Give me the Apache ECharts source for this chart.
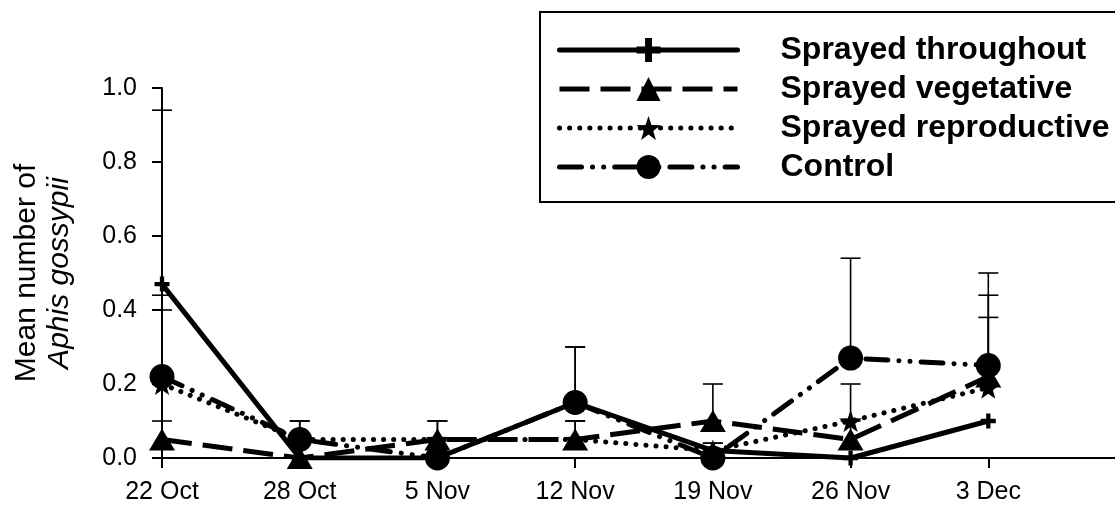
<!DOCTYPE html>
<html><head><meta charset="utf-8">
<script src="https://cdn.jsdelivr.net/npm/echarts@6/dist/echarts.min.js"></script>
<style>html,body{margin:0;padding:0;background:#fff}#c{width:1115px;height:506px}</style>
</head><body><div id="c"></div>
<script>
const categories = ['22 Oct', '28 Oct', '5 Nov', '12 Nov', '19 Nov', '26 Nov', '3 Dec'];
const seriesNames = ['Sprayed throughout', 'Sprayed vegetative', 'Sprayed reproductive', 'Control'];

const throughout   = [0.47, 0.00, 0.00, 0.15, 0.02, 0.00, 0.10];
const vegetative   = [0.05, 0.00, 0.05, 0.05, 0.10, 0.05, 0.22];
const reproductive = [0.20, 0.05, 0.05, 0.05, 0.02, 0.10, 0.19];
const control      = [0.22, 0.05, 0.00, 0.15, 0.00, 0.27, 0.25];

// upper ends of the error bars
const throughoutUpper   = [0.94, 0.00, 0.00, 0.30, 0.04, 0.00, 0.10];
const vegetativeUpper   = [0.10, 0.00, 0.10, 0.10, 0.20, 0.10, 0.44];
const reproductiveUpper = [0.40, 0.10, 0.10, 0.10, 0.04, 0.20, 0.38];
const controlUpper      = [0.44, 0.10, 0.00, 0.30, 0.00, 0.54, 0.50];

const yTicks = [0, 0.2, 0.4, 0.6, 0.8, 1.0];

const FONT = 'Liberation Sans, Arial, sans-serif';
const means = [throughout, vegetative, reproductive, control];
const uppers = [throughoutUpper, vegetativeUpper, reproductiveUpper, controlUpper];

const PLUS = 'path://M5,0H9V5H14V9H9V14H5V9H0V5H5Z';
const STAR = 'path://M10,0L12.351,6.764L19.511,6.91L13.804,11.236L15.878,18.09L10,14L4.122,18.09L6.196,11.236L0.489,6.91L7.649,6.764Z';

const styles = [
  { symbol: PLUS, symbolSize: 15, lineStyle: { type: 'solid', width: 5, cap: 'round' } },
  { symbol: 'triangle', symbolSize: [26, 22], lineStyle: { type: [30, 11], width: 5, cap: 'butt' } },
  { symbol: STAR, symbolSize: [23, 22], lineStyle: { type: [0.1, 10], width: 5, cap: 'round' } },
  { symbol: 'circle', symbolSize: 25, lineStyle: { type: [22, 11, 0.1, 11, 0.1, 11], width: 5, cap: 'round' } }
];

function errRender(params, api) {
  const x = api.value(0), m = api.value(1), u = api.value(2);
  if (!(u > m)) return null;
  const p0 = api.coord([x, m]), p1 = api.coord([x, u]);
  const half = 10;
  return {
    type: 'group',
    children: [
      { type: 'line', shape: { x1: p0[0], y1: p0[1], x2: p1[0], y2: p1[1] }, style: { stroke: '#000', lineWidth: 1.6 } },
      { type: 'line', shape: { x1: p1[0] - half, y1: p1[1], x2: p1[0] + half, y2: p1[1] }, style: { stroke: '#000', lineWidth: 1.6 } }
    ]
  };
}

const series = [];
seriesNames.forEach((name, k) => {
  series.push({
    name: name + ' error',
    type: 'custom',
    z: 1,
    renderItem: errRender,
    encode: { x: 0, y: [1, 2] },
    data: categories.map((c, i) => [i, means[k][i], uppers[k][i]]),
    silent: true
  });
});
seriesNames.forEach((name, k) => {
  series.push({
    name: name,
    type: 'line',
    z: 3 + k,
    data: categories.map((c, i) => [i, means[k][i]]),
    symbol: styles[k].symbol,
    symbolSize: styles[k].symbolSize,
    showAllSymbol: true,
    itemStyle: { color: '#000', borderWidth: 0 },
    lineStyle: { color: '#000', width: styles[k].lineStyle.width, type: styles[k].lineStyle.type, cap: styles[k].lineStyle.cap },
    animation: false
  });
});

const chart = echarts.init(document.getElementById('c'), null, { renderer: 'canvas' });
chart.setOption({
  animation: false,
  backgroundColor: '#fff',
  textStyle: { fontFamily: FONT, color: '#000' },
  grid: { left: 162, top: 88, right: 0, bottom: 48, containLabel: false },
  legend: {
    data: seriesNames,
    orient: 'vertical',
    left: 540, top: 12,
    itemWidth: 178, itemHeight: 30, itemGap: 7,
    padding: [22, 60, 19, 17],
    backgroundColor: '#fff',
    borderColor: '#000', borderWidth: 2,
    lineStyle: { width: 5 },
    textStyle: { fontFamily: FONT, fontSize: 32, fontWeight: 'bold', color: '#000', padding: [0, 0, 0, 38] },
    selectedMode: false,
    z: 10
  },
  xAxis: [{
    type: 'value',
    min: 0, max: 6.92,
    axisLine: { show: true, onZero: false, lineStyle: { color: '#000', width: 2 } },
    axisTick: { show: true, length: 10, inside: false, customValues: categories.map((c, i) => i), lineStyle: { color: '#000', width: 2 } },
    axisLabel: { customValues: categories.map((c, i) => i), formatter: v => categories[Math.round(v)] || '', fontSize: 25, fontFamily: FONT, color: '#000', margin: 22 },
    splitLine: { show: false }
  }, {
    type: 'value',
    position: 'top',
    min: 0, max: 6.92,
    axisLine: { show: true, lineStyle: { color: '#000', width: 2 } },
    axisTick: { show: false },
    axisLabel: { show: false },
    splitLine: { show: false }
  }],
  yAxis: {
    type: 'value',
    min: 0, max: 1, interval: 0.2,
    axisLine: { show: true, lineStyle: { color: '#000', width: 2 } },
    axisTick: { show: true, length: 10, inside: false, lineStyle: { color: '#000', width: 2 } },
    axisLabel: { formatter: v => v.toFixed(1), fontSize: 25, fontFamily: FONT, color: '#000', margin: 25 },
    splitLine: { show: false },
    name: '{a|Mean number of}\n{b|Aphis gossypii}',
    nameLocation: 'middle',
    nameRotate: 90,
    nameGap: 86,
    nameTextStyle: {
      rich: {
        a: { fontSize: 30, fontFamily: FONT, color: '#000', lineHeight: 33 },
        b: { fontSize: 30, fontFamily: FONT, fontStyle: 'italic', color: '#000', lineHeight: 33 }
      }
    }
  },
  series: series
});
</script>
</body></html>
